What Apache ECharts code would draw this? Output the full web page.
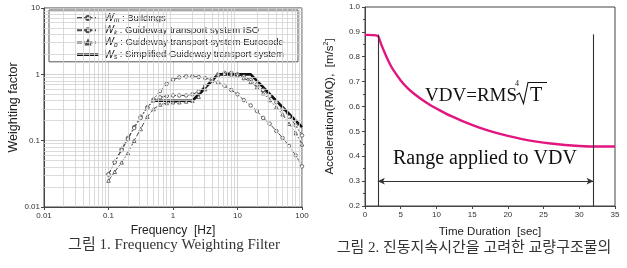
<!DOCTYPE html>
<html>
<head>
<meta charset="utf-8">
<script src="https://cdn.jsdelivr.net/npm/echarts@6/dist/echarts.min.js"></script>
<style>
  html, body { margin: 0; padding: 0; background: #fff; }
  #main { width: 627px; height: 268px; }
</style>
</head>
<body>
<div id="main"></div>
<script>
// ---- figure 1 : frequency weighting (1/3 octave bands) ----
var freqBands = [0.1, 0.125, 0.16, 0.2, 0.25, 0.315, 0.4, 0.5, 0.63, 0.8, 1, 1.25, 1.6, 2, 2.5, 3.15,
                 4, 5, 6.3, 8, 10, 12.5, 16, 20, 25, 31.5, 40, 50, 63, 80, 100];
var wmBuildings = [0.031, 0.048, 0.075, 0.11, 0.16, 0.23, 0.32, 0.42, 0.56, 0.72, 0.83, 0.9, 0.93, 0.93, 0.91, 0.88,
                   0.82, 0.75, 0.67, 0.58, 0.5, 0.41, 0.34, 0.28, 0.22, 0.18, 0.14, 0.11, 0.083, 0.06, 0.041];
var wkIso = [0.031, 0.047, 0.072, 0.105, 0.155, 0.22, 0.31, 0.4, 0.45, 0.47, 0.48, 0.48, 0.48, 0.5, 0.55, 0.67,
             0.85, 1.0, 1.05, 1.05, 1.0, 0.93, 0.82, 0.7, 0.58, 0.47, 0.38, 0.3, 0.23, 0.17, 0.12];
var wbEurocode = [0.025, 0.034, 0.047, 0.065, 0.1, 0.15, 0.23, 0.3, 0.35, 0.37, 0.38, 0.38, 0.39, 0.4, 0.46, 0.6,
                  0.8, 0.98, 1.02, 1.0, 0.97, 0.88, 0.77, 0.64, 0.52, 0.41, 0.32, 0.25, 0.18, 0.13, 0.088];
var wsFreq = [0.5, 2, 5, 16, 100];
var wsSimplified = [0.4, 0.4, 1, 1, 0.16];

// minor log grid (2..9 in each decade)
var decadesX = [0.01, 0.1, 1, 10];
var decadesY = [0.01, 0.1, 1];
var minorSteps = [2, 3, 4, 5, 6, 7, 8, 9];

// ---- figure 2 : RMQ acceleration vs duration ----
var timeSec = [0, 1.8, 2.0, 2.3, 2.7, 3.0, 3.5, 4, 5, 6, 7, 8, 9, 10, 12, 14, 16, 18, 20, 22, 24, 26, 28, 30, 32, 33, 35];
var accelRmq = [0.888, 0.884, 0.872, 0.848, 0.82, 0.80, 0.77, 0.745, 0.705, 0.673, 0.648, 0.627, 0.608, 0.592,
                0.562, 0.537, 0.515, 0.497, 0.482, 0.469, 0.459, 0.451, 0.445, 0.441, 0.439, 0.439, 0.439];
var rangeStart = 1.8, rangeEnd = 32;

function pairs(xs, ys) {
    var out = [];
    for (var i = 0; i < xs.length; i++) out.push([xs[i], ys[i]]);
    return out;
}

var minorLines = [];
decadesX.forEach(function (d) {
    minorSteps.forEach(function (m) { minorLines.push({ xAxis: +(d * m).toPrecision(3) }); });
});
decadesY.forEach(function (d) {
    minorSteps.forEach(function (m) { minorLines.push({ yAxis: +(d * m).toPrecision(3) }); });
});

var legendText = {
    Wm: '{w|W}{s|m} : Buildings',
    Wk: '{w|W}{s|k} : Guideway transport system ISO',
    Wb: '{w|W}{s|b} : Guideway transport system Eurocode',
    Ws: '{w|W}{s|s} : Simplified Guideway transport system'
};

var dashLine = { color: '#4a4a4a', width: 1, type: [5, 2, 1.5, 2] };
var hollow = { color: '#fff', borderColor: '#4a4a4a', borderWidth: 0.8 };

var chart = echarts.init(document.getElementById('main'));
chart.setOption({
    animation: false,
    textStyle: { fontFamily: 'Liberation Sans' },
    grid: [
        { left: 44, top: 8, width: 258, height: 199, show: true, borderColor: '#444', borderWidth: 1 },
        { left: 365, top: 7, width: 250, height: 199, show: true, borderColor: '#444', borderWidth: 1 }
    ],
    legend: {
        data: ['Wm', 'Wk', 'Wb', { name: 'Ws', icon: 'path://M0,0H22V2.6H0Z' }],
        orient: 'vertical',
        left: 49, top: 10,
        padding: [2, 14, 1, 27],
        itemGap: 0,
        itemWidth: 22, itemHeight: 5,
        backgroundColor: '#fff',
        borderColor: '#555', borderWidth: 1,
        formatter: function (name) { return legendText[name]; },
        textStyle: {
            fontSize: 9.5, color: '#222', lineHeight: 12.2,
            rich: {
                w: { fontSize: 10.5, fontStyle: 'italic', color: '#222', lineHeight: 12.2 },
                s: { fontSize: 6.5, fontStyle: 'italic', color: '#222', padding: [5, 0, 0, 0] }
            }
        }
    },
    xAxis: [{
        type: 'log', logBase: 10, gridIndex: 0, min: 0.01, max: 100,
        name: 'Frequency  [Hz]', nameLocation: 'middle', nameGap: 16,
        nameTextStyle: { fontSize: 12, color: '#222' },
        axisLine: { lineStyle: { color: '#444' } },
        axisTick: { length: 3, lineStyle: { color: '#444' } },
        axisLabel: { fontSize: 8, color: '#333', margin: 5 },
        splitLine: { show: true, lineStyle: { color: '#c8c8c8', width: 0.8 } }
    }, {
        type: 'value', gridIndex: 1, min: 0, max: 35, interval: 5,
        name: 'Time Duration  [sec]', nameLocation: 'middle', nameGap: 20,
        nameTextStyle: { fontSize: 11.5, color: '#222' },
        axisLine: { lineStyle: { color: '#444' } },
        axisTick: { length: 3, lineStyle: { color: '#444' } },
        axisLabel: { fontSize: 8, color: '#333', margin: 5 },
        splitLine: { show: false }
    }],
    yAxis: [{
        type: 'log', logBase: 10, gridIndex: 0, min: 0.01, max: 10,
        name: 'Weighting factor', nameLocation: 'middle', nameGap: 21,
        nameTextStyle: { fontSize: 12.5, color: '#222' },
        axisLine: { lineStyle: { color: '#444' } },
        axisTick: { length: 3, lineStyle: { color: '#444' } },
        axisLabel: { fontSize: 8, color: '#333', margin: 4 },
        splitLine: { show: true, lineStyle: { color: '#c8c8c8', width: 0.8 } }
    }, {
        type: 'value', gridIndex: 1, min: 0.2, max: 1.0, interval: 0.1,
        name: 'Acceleration(RMQ),  [m/s{sup|2}]', nameLocation: 'middle', nameGap: 28,
        nameTextStyle: { fontSize: 11.5, color: '#222', rich: { sup: { fontSize: 7, padding: [0, 0, 7, 0] } } },
        axisLine: { lineStyle: { color: '#444' } },
        axisTick: { length: 3, lineStyle: { color: '#444' } },
        minorTick: { show: true, splitNumber: 2, length: 2, lineStyle: { color: '#444' } },
        axisLabel: { fontSize: 8, color: '#333', margin: 5, formatter: function (v) { return v.toFixed(1); } },
        splitLine: { show: false }
    }],
    series: [{
        type: 'line', xAxisIndex: 0, yAxisIndex: 0, data: [], z: 1, silent: true,
        markLine: {
            silent: true, symbol: ['none', 'none'], label: { show: false },
            lineStyle: { color: '#d2d2d2', width: 0.8, type: 'solid' },
            data: minorLines
        }
    }, {
        name: 'Wm', type: 'line', xAxisIndex: 0, yAxisIndex: 0,
        data: pairs(freqBands, wmBuildings),
        symbol: 'circle', symbolSize: 3.5, lineStyle: dashLine, itemStyle: hollow
    }, {
        name: 'Wk', type: 'line', xAxisIndex: 0, yAxisIndex: 0,
        data: pairs(freqBands, wkIso),
        symbol: 'circle', symbolSize: 3.5, lineStyle: dashLine, itemStyle: hollow
    }, {
        name: 'Wb', type: 'line', xAxisIndex: 0, yAxisIndex: 0,
        data: pairs(freqBands, wbEurocode),
        symbol: 'triangle', symbolSize: 3.5, lineStyle: dashLine, itemStyle: hollow
    }, {
        name: 'Ws', type: 'line', xAxisIndex: 0, yAxisIndex: 0,
        data: pairs(wsFreq, wsSimplified),
        symbol: 'none', lineStyle: { color: '#111', width: 2.6 }, itemStyle: { color: '#111' }
    }, {
        name: 'RMQ', type: 'line', xAxisIndex: 1, yAxisIndex: 1,
        data: pairs(timeSec, accelRmq), smooth: 0.3,
        symbol: 'none', lineStyle: { color: '#e3157f', width: 2.4 },
        markLine: {
            silent: true, symbol: ['none', 'none'], label: { show: false },
            lineStyle: { color: '#333', width: 1.1, type: 'solid' },
            data: [
                [{ coord: [rangeStart, 0.2] }, { coord: [rangeStart, 0.889] }],
                [{ coord: [rangeEnd, 0.2] }, { coord: [rangeEnd, 0.89] }],
                [{ coord: [rangeStart, 0.3], symbol: 'arrow', symbolSize: [5, 7] },
                 { coord: [rangeEnd, 0.3], symbol: 'arrow', symbolSize: [5, 7] }]
            ]
        }
    }],
    graphic: [
        { type: 'text', left: 425, top: 87, style: { text: 'VDV=RMS', font: '19px "Liberation Serif"', fill: '#111' } },
        { type: 'text', left: 515, top: 80, style: { text: '4', font: '8px "Liberation Serif"', fill: '#111' } },
        { type: 'polyline', shape: { points: [[516.5, 95], [519.5, 93], [523.5, 103.5], [528, 82.5], [547, 82.5]] },
          style: { stroke: '#111', lineWidth: 1.1, fill: null } },
        { type: 'text', left: 530, top: 86, style: { text: 'T', font: '20px "Liberation Serif"', fill: '#111' } },
        { type: 'text', left: 393, top: 149, style: { text: 'Range applied to VDV', font: '20px "Liberation Serif"', fill: '#111' } },
        { type: 'text', x: 174, y: 245, style: { text: '그림 1. Frequency Weighting Filter', textAlign: 'center', textVerticalAlign: 'middle',
          font: '15px "Liberation Serif", "Noto Sans CJK KR"', fill: '#333' } },
        { type: 'text', x: 474, y: 248, style: { text: '그림 2. 진동지속시간을 고려한 교량구조물의', textAlign: 'center', textVerticalAlign: 'middle',
          font: '15px "Liberation Serif", "Noto Sans CJK KR"', fill: '#333' } }
    ]
});
</script>
</body>
</html>
